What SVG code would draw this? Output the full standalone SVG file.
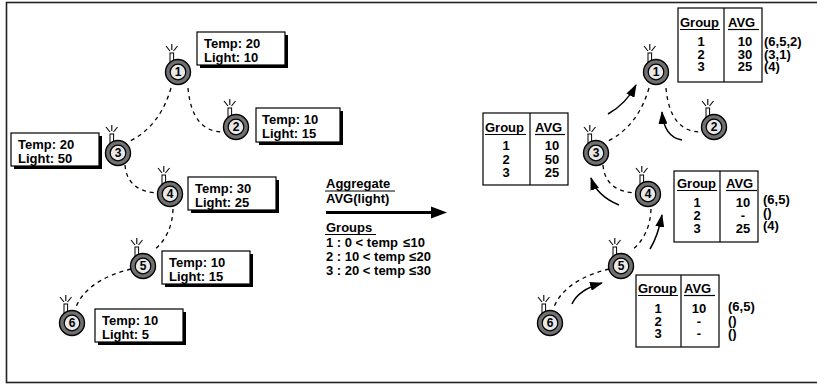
<svg xmlns="http://www.w3.org/2000/svg" xmlns:xlink="http://www.w3.org/1999/xlink" width="817" height="386" viewBox="0 0 817 386">
<style>
text{font-family:"Liberation Sans",Arial,sans-serif;font-weight:bold;font-size:13px;fill:#000}
.num{font-size:12px;text-anchor:middle}
.c{text-anchor:middle}
.box{fill:#fff;stroke:#000;stroke-width:1.2}
.sh{fill:#000}
.tbl{fill:#fff;stroke:#000;stroke-width:1.2}
.ln{stroke:#000;stroke-width:1.2}
.dash{fill:none;stroke:#000;stroke-width:1.3;stroke-dasharray:4 4}
.arr{fill:none;stroke:#000;stroke-width:1.5;marker-end:url(#ah)}
</style>
<defs>
<marker id="ah" markerUnits="userSpaceOnUse" markerWidth="13" markerHeight="9" refX="12" refY="4.5" orient="auto">
<path d="M0,0 L13,4.5 L0,9 z" fill="#000"/>
</marker>
<g id="mote">
<g stroke="#000" stroke-width="1.1">
<line x1="-8" y1="-21" x2="-12" y2="-26"/>
<line x1="-6.2" y1="-22" x2="-6.2" y2="-28"/>
<line x1="-4.5" y1="-21" x2="-0.5" y2="-26"/>
</g>
<rect x="-8" y="-19" width="3.6" height="10" fill="#fff" stroke="#000" stroke-width="1"/>
<circle r="12.5" fill="#707070" stroke="#000" stroke-width="1.4"/>
<circle r="7.8" fill="#e8e8e8" stroke="#000" stroke-width="1.2"/>
</g>
</defs>
<rect x="6.5" y="2.5" width="820" height="380" fill="#fff" stroke="#222" stroke-width="1.6"/>

<g id="connectors">
<path class="dash" d="M171,88 Q160,126 130,141"/>
<path class="dash" d="M188,88 Q192,132 223,132"/>
<path class="dash" d="M125,165 Q127,191 157,193"/>
<path class="dash" d="M173,209 Q172,236 153,251"/>
<path class="dash" d="M131,269 Q87,280 76,307"/>
<path class="dash" d="M649,88 Q638,126 608,141"/>
<path class="dash" d="M666,88 Q670,132 701,132"/>
<path class="dash" d="M603,165 Q605,191 635,193"/>
<path class="dash" d="M651,209 Q650,236 631,251"/>
<path class="dash" d="M609,269 Q565,280 554,307"/>
<path class="arr" d="M608,114 Q626,104 636,85"/>
<path class="arr" d="M682,140 Q664,137 662,112"/>
<path class="arr" d="M619,205 Q597,196 591,178"/>
<path class="arr" d="M650,249 Q658,236 662,215"/>
<path class="arr" d="M572,304 Q578,290 602,283"/>
<line x1="326" y1="212.5" x2="434" y2="212.5" stroke="#000" stroke-width="3"/>
<polygon points="431,206.5 447,212.5 431,218.5" fill="#000"/>
</g>

<g id="n1"><use xlink:href="#mote" x="178" y="72"/><text class="num" x="178" y="76.3">1</text></g>
<g id="n2"><use xlink:href="#mote" x="236" y="127"/><text class="num" x="236" y="131.3">2</text></g>
<g id="n3"><use xlink:href="#mote" x="118" y="153"/><text class="num" x="118" y="157.3">3</text></g>
<g id="n4"><use xlink:href="#mote" x="170" y="194"/><text class="num" x="170" y="198.3">4</text></g>
<g id="n5"><use xlink:href="#mote" x="143" y="266"/><text class="num" x="143" y="270.3">5</text></g>
<g id="n6"><use xlink:href="#mote" x="72" y="323"/><text class="num" x="72" y="327.3">6</text></g>

<g id="r1"><use xlink:href="#mote" x="656" y="72"/><text class="num" x="656" y="76.3">1</text></g>
<g id="r2"><use xlink:href="#mote" x="714" y="127"/><text class="num" x="714" y="131.3">2</text></g>
<g id="r3"><use xlink:href="#mote" x="596" y="153"/><text class="num" x="596" y="157.3">3</text></g>
<g id="r4"><use xlink:href="#mote" x="648" y="194"/><text class="num" x="648" y="198.3">4</text></g>
<g id="r5"><use xlink:href="#mote" x="621" y="266"/><text class="num" x="621" y="270.3">5</text></g>
<g id="r6"><use xlink:href="#mote" x="550" y="323"/><text class="num" x="550" y="327.3">6</text></g>

<g id="box1"><rect class="sh" x="200" y="35" width="88" height="33"/><rect class="box" x="197" y="32" width="88" height="33"/><text x="204" y="47.5">Temp: 20</text><text x="204" y="61.5">Light: 10</text></g>
<g id="box2"><rect class="sh" x="259" y="111" width="84" height="34"/><rect class="box" x="256" y="108" width="84" height="34"/><text x="262" y="124">Temp: 10</text><text x="262" y="138">Light: 15</text></g>
<g id="box3"><rect class="sh" x="14" y="136" width="88" height="33"/><rect class="box" x="11" y="133" width="88" height="33"/><text x="18" y="148.5">Temp: 20</text><text x="18" y="162.5">Light: 50</text></g>
<g id="box4"><rect class="sh" x="191" y="180" width="88" height="33"/><rect class="box" x="188" y="177" width="88" height="33"/><text x="195" y="192.5">Temp: 30</text><text x="195" y="206.5">Light: 25</text></g>
<g id="box5"><rect class="sh" x="165" y="254" width="88" height="33"/><rect class="box" x="162" y="251" width="88" height="33"/><text x="169" y="266.5">Temp: 10</text><text x="169" y="280.5">Light: 15</text></g>
<g id="box6"><rect class="sh" x="98" y="312" width="88" height="33"/><rect class="box" x="95" y="309" width="88" height="33"/><text x="102" y="324.5">Temp: 10</text><text x="102" y="338.5">Light: 5</text></g>

<g id="legend">
<text x="326" y="188">Aggregate</text>
<line class="ln" x1="325" y1="191" x2="395" y2="191"/>
<text x="326" y="203">AVG(light)</text>
<text x="326" y="232">Groups</text>
<line class="ln" x1="325" y1="234.5" x2="376" y2="234.5"/>
<text x="326" y="247">1 : 0 &lt; temp</text><text x="403" y="247">≤</text><text x="410.5" y="247">10</text>
<text x="326" y="261">2 : 10 &lt; temp</text><text x="409" y="261">≤</text><text x="416.5" y="261">20</text>
<text x="326" y="275">3 : 20 &lt; temp</text><text x="409" y="275">≤</text><text x="416.5" y="275">30</text>
</g>

<g id="tbl-top">
<rect class="tbl" x="678" y="8" width="84" height="74"/>
<line class="ln" x1="724" y1="8" x2="724" y2="82"/>
<text x="680" y="27">Group</text><line class="ln" x1="680" y1="29.5" x2="720" y2="29.5"/>
<text x="728" y="27">AVG</text><line class="ln" x1="728" y1="29.5" x2="759" y2="29.5"/>
<text class="c" x="701" y="46">1</text><text class="c" x="701" y="58.5">2</text><text class="c" x="701" y="71">3</text>
<text class="c" x="745" y="46">10</text><text class="c" x="745" y="58.5">30</text><text class="c" x="745" y="71">25</text>
<text x="764" y="46">(6,5,2)</text><text x="764" y="58.5">(3,1)</text><text x="764" y="71">(4)</text>
</g>

<g id="tbl-left">
<rect class="tbl" x="483" y="113" width="85" height="72"/>
<line class="ln" x1="530" y1="113" x2="530" y2="185"/>
<text x="485" y="132">Group</text><line class="ln" x1="485" y1="134.5" x2="526" y2="134.5"/>
<text x="535" y="132">AVG</text><line class="ln" x1="535" y1="134.5" x2="565" y2="134.5"/>
<text class="c" x="506" y="150">1</text><text class="c" x="506" y="164">2</text><text class="c" x="506" y="177">3</text>
<text class="c" x="552" y="150">10</text><text class="c" x="552" y="164">50</text><text class="c" x="552" y="177">25</text>
</g>

<g id="tbl-mid">
<rect class="tbl" x="674" y="171" width="84" height="71"/>
<line class="ln" x1="720" y1="171" x2="720" y2="242"/>
<text x="677" y="188">Group</text><line class="ln" x1="677" y1="190.5" x2="717" y2="190.5"/>
<text x="726" y="188">AVG</text><line class="ln" x1="726" y1="190.5" x2="757" y2="190.5"/>
<text class="c" x="697" y="207">1</text><text class="c" x="697" y="220">2</text><text class="c" x="697" y="233">3</text>
<text class="c" x="743" y="207">10</text><text class="c" x="743" y="220">-</text><text class="c" x="743" y="233">25</text>
<text x="763" y="204">(6,5)</text><text x="763" y="217">()</text><text x="763" y="230">(4)</text>
</g>

<g id="tbl-bot">
<rect class="tbl" x="636" y="275" width="83" height="72"/>
<line class="ln" x1="681" y1="275" x2="681" y2="347"/>
<text x="638" y="293">Group</text><line class="ln" x1="638" y1="295.5" x2="678" y2="295.5"/>
<text x="684" y="293">AVG</text><line class="ln" x1="684" y1="295.5" x2="715" y2="295.5"/>
<text class="c" x="658" y="313">1</text><text class="c" x="658" y="325.5">2</text><text class="c" x="658" y="338">3</text>
<text class="c" x="699" y="313">10</text><text class="c" x="699" y="325.5">-</text><text class="c" x="699" y="338">-</text>
<text x="728" y="311">(6,5)</text><text x="728" y="325">()</text><text x="728" y="338">()</text>
</g>
</svg>
